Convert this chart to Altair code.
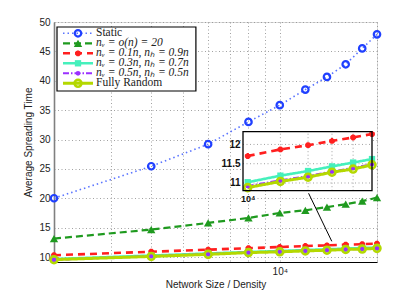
import altair as alt
import pandas as pd

# ---------------- data ----------------
sizes = [2000, 4000, 6000, 8000, 10000, 12000, 14000, 16000, 18000, 20000]
static = [20.0, 25.45, 29.2, 33.0, 35.85, 38.5, 40.65, 42.8, 45.5, 47.9]
nv_o20 = [13.13, 14.67, 15.8, 16.65, 17.5, 17.95, 18.5, 18.98, 19.5, 20.1]
nv_01 = [10.3, 10.9, 11.25, 11.5, 11.70, 11.87, 11.98, 12.09, 12.18, 12.27]
nv_03 = [9.65, 10.25, 10.6, 10.85, 11.02, 11.19, 11.31, 11.43, 11.53, 11.62]
nv_05 = [9.52, 10.15, 10.5, 10.78, 10.92, 11.07, 11.18, 11.30, 11.39, 11.49]
fully_random = [9.55, 10.1, 10.45, 10.75, 10.88, 11.04, 11.15, 11.28, 11.36, 11.47]

names = ["Static", "nᵥ = o(n) = 20", "nᵥ = 0.1n, nₕ = 0.9n",
         "nᵥ = 0.3n, nₕ = 0.7n", "nᵥ = 0.5n, nₕ = 0.5n", "Fully Random"]
values = [static, nv_o20, nv_01, nv_03, nv_05, fully_random]

y_ticks = [10, 15, 20, 25, 30, 35, 40, 45, 50]
x_grid = [2000, 3000, 4000, 5000, 6000, 7000, 8000, 9000, 10000, 20000]
inset_y_ticks = [11, 11.5, 12]
inset_x_grid = [12000, 14000, 16000, 18000]
pointer = pd.DataFrame({"x0": [12280], "x1": [14490], "y0": [20.85], "y1": [12.67]})

# ---------------- styles ----------------
ASTER = "M-1,0L1,0M0,-1L0,1M-0.7,-0.7L0.7,0.7M-0.7,0.7L0.7,-0.7"
styles = [
    dict(lc="#5a74ff", dash=[1.5, 3], lw=1.6, mc="#2040ff", shape="circle", filled=False, size=42, msw=2.2),
    dict(lc="#1f9a1f", dash=[7, 4], lw=2.2, mc="#1f9a1f", shape="triangle-up", filled=True, size=70, msw=1),
    dict(lc="#ff1f1f", dash=[7, 5], lw=2.6, mc="#ff1f1f", shape=ASTER, filled=False, size=34, msw=2.4),
    dict(lc="#45f0bc", dash=[1, 0], lw=2.6, mc="#45f0bc", shape="square", filled=True, size=40, msw=1),
    dict(lc="#9b30ff", dash=[6, 2, 1.5, 2], lw=2.0, mc="#9b30ff", shape="circle", filled=True, size=22, msw=1),
    dict(lc="#b4d800", dash=[1, 0], lw=3.0, mc="#b4d800", shape="circle", filled=False, size=48, msw=2.6),
]

W, H = 323, 240
FONT = "Liberation Sans"
SERIF = "Liberation Serif"

rows = []
for name, vals in zip(names, values):
    for s, v in zip(sizes, vals):
        rows.append({"series": name, "size": s, "value": v})
df = pd.DataFrame(rows)

# ---------------- main plot ----------------
mx_scale = alt.Scale(type="log", domain=[2000, 20000], nice=False)
my_scale = alt.Scale(domain=[9.15, 50], nice=False, zero=False)
mx_axis = alt.Axis(values=x_grid, labelExpr="datum.value == 10000 ? '10⁴' : ''",
                   grid=True, gridDash=[1, 2.5], gridColor="#8a8a8a", gridWidth=0.8,
                   ticks=False, domainColor="#000000", domainWidth=1.2,
                   labelFont=FONT, labelFontSize=10, labelColor="#222", labelPadding=4,
                   title="Network Size / Density", titleFont=FONT, titleFontSize=10,
                   titleFontWeight="normal", titleColor="#222", titlePadding=3)
my_axis = alt.Axis(values=y_ticks, grid=True, gridDash=[1, 2.5], gridColor="#8a8a8a", gridWidth=0.8,
                   ticks=False, domainColor="#808080", domainWidth=1.6,
                   labelFont=FONT, labelFontSize=10, labelColor="#222", labelPadding=4,
                   title="Average Spreading Time", titleFont=FONT, titleFontSize=10,
                   titleFontWeight="normal", titleColor="#222", titlePadding=5)

mX = alt.X("size:Q", scale=mx_scale, axis=mx_axis)
mY = alt.Y("value:Q", scale=my_scale, axis=my_axis)

main_layers = []
for name, st in zip(names, styles):
    sub = df[df.series == name]
    main_layers.append(alt.Chart(sub).mark_line(color=st["lc"], strokeDash=st["dash"],
                                                strokeWidth=st["lw"]).encode(x=mX, y=mY))
for name, st in zip(names, styles):
    sub = df[df.series == name]
    main_layers.append(alt.Chart(sub).mark_point(shape=st["shape"], filled=st["filled"],
                                                 color=st["mc"], size=st["size"],
                                                 strokeWidth=st["msw"], opacity=1).encode(x=mX, y=mY))
main_layers.append(alt.Chart(pointer).mark_rule(color="black", strokeWidth=1).encode(
    x=alt.X("x0:Q", scale=mx_scale, axis=mx_axis), x2="x1:Q",
    y=alt.Y("y0:Q", scale=my_scale, axis=my_axis), y2="y1:Q"))
main = alt.layer(*main_layers)

# ---------------- inset ----------------
ix0, ix1 = 9740, 20000
iy0, iy1 = 10.8, 12.33
ix_scale = alt.Scale(type="log", domain=[ix0, ix1], nice=False, range=[189, 318])
iy_scale = alt.Scale(domain=[iy0, iy1], nice=False, zero=False, range=[168.7, 109.7])
ix_axis = alt.Axis(orient="bottom", offset=168.7 - H, values=[10000], labelExpr="'10⁴'",
                   grid=False, ticks=False, domain=False, labelFont=FONT, labelFontSize=9,
                   labelFontWeight="bold", labelColor="#111", labelPadding=4, title=None)
iy_axis = alt.Axis(orient="left", offset=-189, values=inset_y_ticks, format="~g",
                   grid=False, ticks=False, domain=False, labelFont=FONT, labelFontSize=10,
                   labelFontWeight="bold", labelColor="#111", labelPadding=3, title=None)
iX = alt.X("size:Q", scale=ix_scale, axis=ix_axis)
iY = alt.Y("value:Q", scale=iy_scale, axis=iy_axis)

box = pd.DataFrame({"x0": [ix0], "x1": [ix1], "y0": [iy0], "y1": [iy1]})
inset_layers = [
    alt.Chart(box).mark_rect(fill="white").encode(
        x=alt.X("x0:Q", scale=ix_scale, axis=ix_axis), x2="x1:Q",
        y=alt.Y("y0:Q", scale=iy_scale, axis=iy_axis), y2="y1:Q"),
    alt.Chart(pd.DataFrame({"gx": inset_x_grid, "ya": iy0, "yb": iy1})).mark_rule(
        color="#8a8a8a", strokeDash=[1, 2.5], strokeWidth=0.8).encode(
        x=alt.X("gx:Q", scale=ix_scale, axis=ix_axis),
        y=alt.Y("ya:Q", scale=iy_scale, axis=iy_axis), y2="yb:Q"),
    alt.Chart(pd.DataFrame({"gy": inset_y_ticks, "xa": ix0, "xb": ix1})).mark_rule(
        color="#8a8a8a", strokeDash=[1, 2.5], strokeWidth=0.8).encode(
        y=alt.Y("gy:Q", scale=iy_scale, axis=iy_axis),
        x=alt.X("xa:Q", scale=ix_scale, axis=ix_axis), x2="xb:Q"),
]
dfi = df[df["size"] >= 10000]
for name, st in zip(names[2:], styles[2:]):
    sub = dfi[dfi.series == name]
    inset_layers.append(alt.Chart(sub).mark_line(color=st["lc"], strokeDash=st["dash"],
                                                 strokeWidth=st["lw"]).encode(x=iX, y=iY))
for name, st in zip(names[2:], styles[2:]):
    sub = dfi[dfi.series == name]
    inset_layers.append(alt.Chart(sub).mark_point(shape=st["shape"], filled=st["filled"],
                                                  color=st["mc"], size=st["size"],
                                                  strokeWidth=st["msw"], opacity=1).encode(x=iX, y=iY))
inset_layers.append(alt.Chart(box).mark_rect(fill=None, stroke="black", strokeWidth=1.3).encode(
    x=alt.X("x0:Q", scale=ix_scale, axis=ix_axis), x2="x1:Q",
    y=alt.Y("y0:Q", scale=iy_scale, axis=iy_axis), y2="y1:Q"))
inset = alt.layer(*inset_layers)

# ---------------- legend ----------------
lx_scale = alt.Scale(domain=[0, 1], nice=False, zero=False, range=[9, 39])
ly_scale = alt.Scale(domain=[0, 5], nice=False, zero=False, range=[11.3, 61.3])
lbox = pd.DataFrame({"x0": [-0.2], "x1": [4.43], "y0": [-0.63], "y1": [5.77]})
legend_layers = [
    alt.Chart(lbox).mark_rect(fill="white", stroke="black", strokeWidth=1.2).encode(
        x=alt.X("x0:Q", scale=lx_scale, axis=None), x2="x1:Q",
        y=alt.Y("y0:Q", scale=ly_scale, axis=None), y2="y1:Q")
]
for i, (name, st) in enumerate(zip(names, styles)):
    seg = pd.DataFrame({"lx": [0, 1], "ly": [i, i]})
    legend_layers.append(alt.Chart(seg).mark_line(color=st["lc"], strokeDash=st["dash"],
                                                  strokeWidth=st["lw"]).encode(
        x=alt.X("lx:Q", scale=lx_scale, axis=None), y=alt.Y("ly:Q", scale=ly_scale, axis=None)))
    mk = pd.DataFrame({"lx": [0.5], "ly": [i]})
    legend_layers.append(alt.Chart(mk).mark_point(shape=st["shape"], filled=st["filled"],
                                                  color=st["mc"], size=st["size"],
                                                  strokeWidth=st["msw"], opacity=1).encode(
        x=alt.X("lx:Q", scale=lx_scale, axis=None), y=alt.Y("ly:Q", scale=ly_scale, axis=None)))
lab = pd.DataFrame({"lx": [1.1] * 6, "ly": list(range(6)), "label": names,
                    "math": [False, True, True, True, True, False]})
legend_layers.append(alt.Chart(lab[~lab.math]).mark_text(
    align="left", baseline="middle", font=SERIF, fontSize=11.5, fontWeight=400, color="#222").encode(
    x=alt.X("lx:Q", scale=lx_scale, axis=None), y=alt.Y("ly:Q", scale=ly_scale, axis=None), text="label:N"))
legend_layers.append(alt.Chart(lab[lab.math]).mark_text(
    align="left", baseline="middle", font=SERIF, fontSize=11.5, fontStyle="italic", fontWeight=400,
    color="#222").encode(
    x=alt.X("lx:Q", scale=lx_scale, axis=None), y=alt.Y("ly:Q", scale=ly_scale, axis=None), text="label:N"))
legend = alt.layer(*legend_layers)

chart = alt.layer(main, inset, legend).resolve_scale(
    x="independent", y="independent"
).properties(
    width=W, height=H,
    autosize=alt.AutoSizeParams(type="none"),
    padding={"left": 46, "top": 14, "right": 30, "bottom": 33},
).configure_view(stroke="#888888", strokeWidth=1.2).configure(background="white")

chart.save("out.html", embed_options={"renderer": "svg", "actions": False})
